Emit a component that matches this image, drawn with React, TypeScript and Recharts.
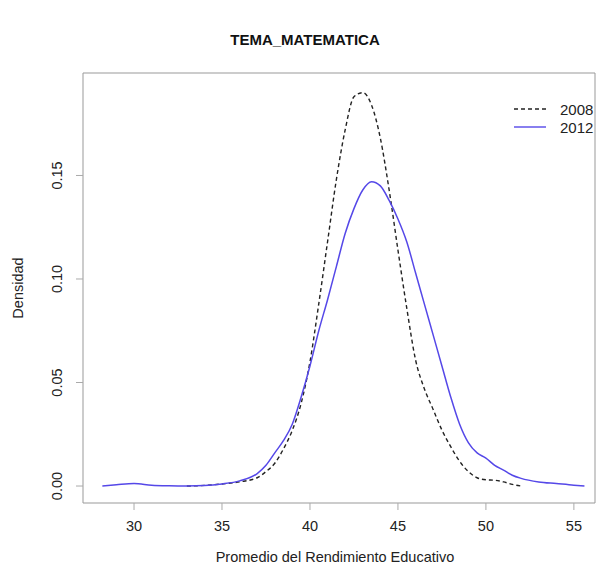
import React from "react";
import {
  LineChart,
  Line,
  XAxis,
  YAxis,
  ReferenceArea,
} from "recharts";

// Density estimates
const x2008 = [
  33, 34, 35, 36, 37, 37.5, 38, 38.5, 39, 39.5, 40, 40.5, 41, 41.5, 42, 42.5,
  43, 43.5, 44, 44.5, 45, 45.5, 46, 46.5, 47, 47.5, 48, 48.5, 49, 49.5, 50,
  50.5, 51, 51.5, 52,
];
const d2008 = [
  0, 0.0003, 0.001, 0.002, 0.004, 0.007, 0.011, 0.018, 0.027, 0.04, 0.06,
  0.088, 0.118, 0.148, 0.172, 0.188, 0.19, 0.184, 0.168, 0.143, 0.114, 0.086,
  0.061, 0.047, 0.037, 0.027, 0.019, 0.012, 0.007, 0.004, 0.003, 0.0028,
  0.002, 0.0008, 0,
];

const x2012 = [
  28.2, 29, 30, 31, 32, 33, 34, 35, 36, 37, 37.5, 38, 38.5, 39, 39.5, 40, 40.5,
  41, 41.5, 42, 42.5, 43, 43.5, 44, 44.5, 45, 45.5, 46, 46.5, 47, 47.5, 48,
  48.5, 49, 49.5, 50, 50.5, 51, 51.5, 52, 53, 54, 55, 55.6,
];
const d2012 = [
  0, 0.0006, 0.0012, 0.0004, 0.0001, 0, 0.0002, 0.001, 0.0025, 0.006, 0.01,
  0.016, 0.022, 0.03, 0.043, 0.058, 0.075, 0.09, 0.106, 0.122, 0.134, 0.143,
  0.147, 0.145, 0.138, 0.129, 0.118, 0.103, 0.088, 0.073, 0.058, 0.043, 0.03,
  0.021, 0.016, 0.0135, 0.01, 0.0077, 0.0052, 0.0037, 0.002, 0.0012, 0.0004, 0,
];

const xTicks = [30, 35, 40, 45, 50, 55];
const yTicks = [0, 0.05, 0.1, 0.15];
const xDomain = [27.1, 56.2];
const yDomain = [-0.0082, 0.1995];

const COLOR_2008 = "#222";
const COLOR_2012 = "#5548e8";
const FONT = "'Liberation Sans', Arial, sans-serif";

const series2008 = x2008.map((x, i) => ({ x, y: d2008[i] }));
const series2012 = x2012.map((x, i) => ({ x, y: d2012[i] }));

// rotated y tick labels, R style
const YTick = ({ x, y, payload }: any) => {
  const tx = x - 17;
  return (
    <text
      x={tx}
      y={y}
      transform={`rotate(-90, ${tx}, ${y})`}
      textAnchor="middle"
      dominantBaseline="central"
      fontSize={14.5}
      fill="#222"
      fontFamily={FONT}
    >
      {payload.value.toFixed(2)}
    </text>
  );
};

export default function App() {
  return (
    <div
      style={{
        position: "absolute",
        left: 0,
        top: 0,
        width: 599,
        height: 571,
        background: "#fff",
        fontFamily: FONT,
      }}
    >
      <div
        style={{
          position: "absolute",
          left: 0,
          width: 610,
          top: 30,
          textAlign: "center",
          fontWeight: "bold",
          fontSize: 15,
          lineHeight: "20px",
          color: "#111",
        }}
      >
        TEMA_MATEMATICA
      </div>

      <LineChart
        width={599}
        height={571}
        margin={{ top: 73, right: 4, left: 0, bottom: 0 }}
      >
        <XAxis
          dataKey="x"
          type="number"
          domain={xDomain}
          ticks={xTicks}
          allowDataOverflow
          height={68}
          axisLine={false}
          tickSize={7}
          tickMargin={11}
          tickLine={{ stroke: "#aaa" }}
          tick={{ fontSize: 14.5, fill: "#222", fontFamily: FONT }}
          label={{
            value: "Promedio del Rendimiento Educativo",
            position: "insideBottom",
            offset: 9,
            dx: -4,
            fontSize: 14.5,
            fill: "#222",
            fontFamily: FONT,
          }}
        />
        <YAxis
          dataKey="y"
          type="number"
          domain={yDomain}
          ticks={yTicks}
          allowDataOverflow
          width={83}
          axisLine={false}
          tickSize={7}
          tickLine={{ stroke: "#aaa" }}
          tick={<YTick />}
          label={{
            value: "Densidad",
            angle: -90,
            position: "center",
            dx: -24,
            fontSize: 14.5,
            fill: "#222",
            fontFamily: FONT,
          }}
        />
        <ReferenceArea
          x1={xDomain[0]}
          x2={xDomain[1]}
          y1={yDomain[0]}
          y2={yDomain[1]}
          fill="none"
          stroke="#999"
          strokeWidth={1}
        />
        <Line
          data={series2008}
          dataKey="y"
          type="monotone"
          stroke={COLOR_2008}
          strokeWidth={1.4}
          strokeDasharray="4 3"
          dot={false}
          name="2008"
          isAnimationActive={false}
        />
        <Line
          data={series2012}
          dataKey="y"
          type="monotone"
          stroke={COLOR_2012}
          strokeWidth={1.5}
          dot={false}
          name="2012"
          isAnimationActive={false}
        />
      </LineChart>

      {/* legend, no box like bty="n" */}
      <div style={{ position: "absolute", left: 514, top: 100, fontSize: 15, color: "#222" }}>
        {[
          { name: "2008", color: COLOR_2008, dash: "4 3" },
          { name: "2012", color: COLOR_2012, dash: undefined },
        ].map((item) => (
          <div
            key={item.name}
            style={{ display: "flex", alignItems: "center", height: 18 }}
          >
            <svg width={34} height={18}>
              <line
                x1={0}
                x2={32}
                y1={9}
                y2={9}
                stroke={item.color}
                strokeWidth={1.4}
                strokeDasharray={item.dash}
              />
            </svg>
            <span style={{ marginLeft: 12 }}>{item.name}</span>
          </div>
        ))}
      </div>
    </div>
  );
}
